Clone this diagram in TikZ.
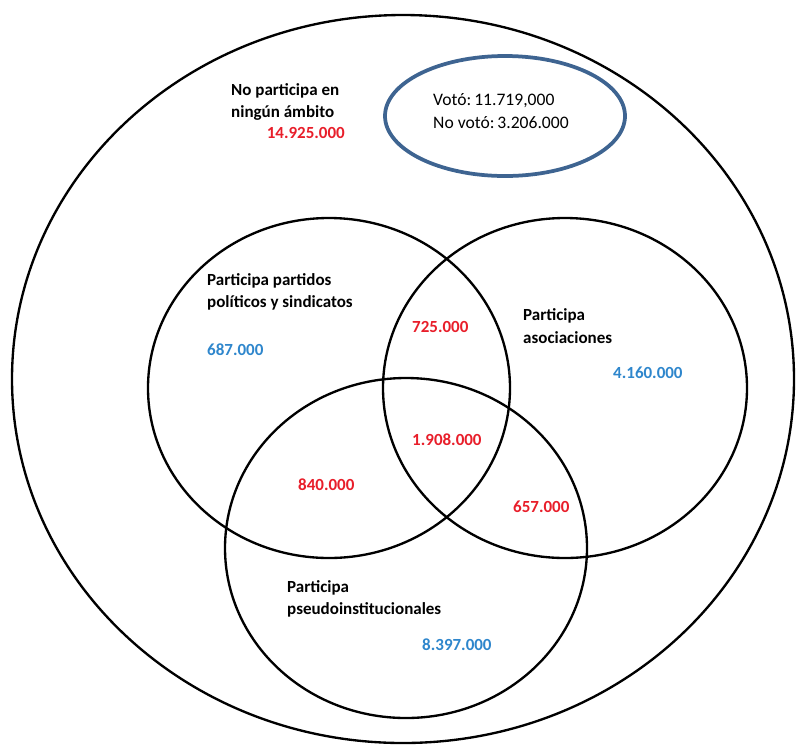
\documentclass[tikz,border=0pt]{standalone}
\usepackage{fontspec}
\setmainfont{Carlito}
\definecolor{valred}{RGB}{232,30,42}
\definecolor{valblue}{RGB}{46,134,204}
\definecolor{voteblue}{RGB}{62,100,145}
\begin{document}
\begin{tikzpicture}[
  x=0.03cm, y=-0.03cm,
  every node/.style={inner sep=0pt, font=\fontsize{14.5}{19}\selectfont\bfseries},
  set/.style={draw=black, line width=2pt},
  voteset/.style={draw=voteblue, line width=3.2pt},
  settext/.style={align=left, anchor=west},
  redval/.style={text=valred, anchor=west},
  blueval/.style={text=valblue, anchor=west},
  votetext/.style={align=left, anchor=west, font=\fontsize{15}{19}\selectfont}]

  \useasboundingbox (0,0) rectangle (796,744);

  % set centres
  \coordinate (all)  at (403,379);
  \coordinate (vote) at (505,116);
  \coordinate (pol)  at (329,388);
  \coordinate (aso)  at (565,388);
  \coordinate (pse)  at (406,548);

  % sets
  \draw[set]     (all)  ellipse [x radius=391, y radius=364];
  \draw[voteset] (vote) ellipse [x radius=120, y radius=60];
  \draw[set]     (pol)  ellipse [x radius=181, y radius=170];
  \draw[set]     (aso)  ellipse [x radius=182, y radius=170];
  \draw[set]     (pse)  ellipse [x radius=181, y radius=170];

  % texts
  \node[settext] (none)  at (231,102) {No participa en\\ningún ámbito};
  \node[redval, anchor=east] (nonev) at (345,133) {14.925.000};
  \node[votetext] (votet) at (433,111) {Votó:\,11.719,000\\No votó:\,3.206.000};
  \node[settext] (polt)  at (207,292) {Participa partidos\\políticos y sindicatos};
  \node[blueval] (polv)  at (207,350) {687.000};
  \node[settext] (asot)  at (523,326) {Participa\\asociaciones};
  \node[blueval] (asov)  at (613,373) {4.160.000};
  \node[settext] (pset)  at (287,599) {Participa\\pseudoinstitucionales};
  \node[blueval] (psev)  at (422,645) {8.397.000};

  % overlaps
  \node[redval] (polaso)    at (412,327) {725.000};
  \node[redval] (polasopse) at (412,440) {1.908.000};
  \node[redval] (polpse)    at (298,485) {840.000};
  \node[redval] (asopse)    at (513,507) {657.000};
\end{tikzpicture}
\end{document}
